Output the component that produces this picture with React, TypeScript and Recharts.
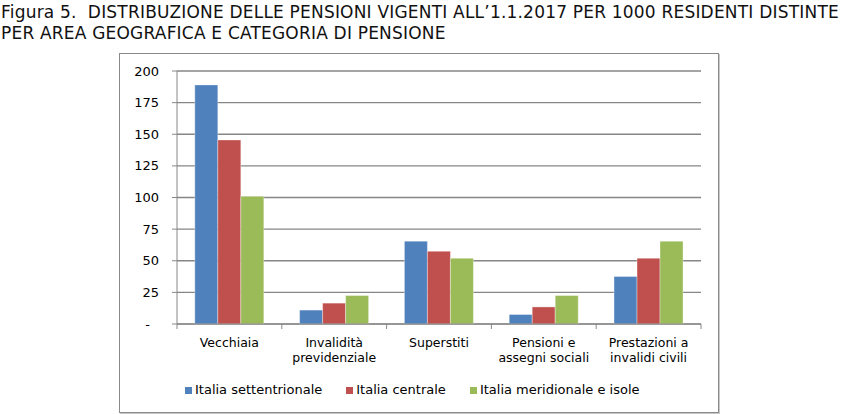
import { BarChart, Bar, XAxis, YAxis, CartesianGrid } from "recharts";

const categories = [
  "Vecchiaia",
  "Invalidità\nprevidenziale",
  "Superstiti",
  "Pensioni e\nassegni sociali",
  "Prestazioni a\ninvalidi civili",
];
const nord = [189, 11, 65.5, 7.5, 37.5];
const centro = [145.5, 16.5, 57.5, 13.5, 52];
const sud = [101, 22.5, 52, 22.5, 65.5];
const yTicks = [0, 25, 50, 75, 100, 125, 150, 175, 200];

const series = [
  { key: "nord", name: "Italia settentrionale", color: "#4F81BD" },
  { key: "centro", name: "Italia centrale", color: "#C0504D" },
  { key: "sud", name: "Italia meridionale e isole", color: "#9BBB59" },
];

const data = categories.map((name, i) => ({
  name,
  nord: nord[i],
  centro: centro[i],
  sud: sud[i],
}));

const FONT = "'DejaVu Sans', Verdana, sans-serif";
const CHART_W = 598;
const CHART_H = 358;
const MARGIN = { top: 17, right: 17, left: 0, bottom: 0 };
const Y_WIDTH = 57;
const BAND = (CHART_W - MARGIN.left - MARGIN.right - Y_WIDTH) / categories.length;

function XTick(props: any) {
  const { x, y, payload, index } = props;
  const lines = String(payload.value).split("\n");
  const half = BAND / 2;
  return (
    <g>
      <line x1={x - half} x2={x - half} y1={y} y2={y + 5} stroke="#888" />
      {index === categories.length - 1 && (
        <line x1={x + half} x2={x + half} y1={y} y2={y + 5} stroke="#888" />
      )}
      <text x={x} y={y} textAnchor="middle" fontFamily={FONT} fontSize={12.5} fill="#000">
        {lines.map((l, i) => (
          <tspan key={i} x={x} dy={i === 0 ? 23 : 15}>
            {l}
          </tspan>
        ))}
      </text>
    </g>
  );
}

function YTick(props: any) {
  const { x, y, payload } = props;
  const zero = payload.value === 0;
  return (
    <text
      x={zero ? x - 9 : x}
      y={y}
      dy={4.5}
      textAnchor="end"
      fontFamily={FONT}
      fontSize={13}
      fill="#000"
    >
      {zero ? "-" : payload.value}
    </text>
  );
}

export default function App() {
  return (
    <div style={{ position: "absolute", left: 0, top: 0, width: 861, height: 414, background: "#fff" }}>
      <div
        style={{
          position: "absolute",
          left: 1,
          top: 2,
          fontFamily: FONT,
          fontSize: 17,
          letterSpacing: 0.2,
          lineHeight: "21px",
          color: "#111",
          whiteSpace: "nowrap",
        }}
      >
        Figura 5.&nbsp; DISTRIBUZIONE DELLE PENSIONI VIGENTI ALL’1.1.2017 PER 1000 RESIDENTI DISTINTE
        <br />
        PER AREA GEOGRAFICA E CATEGORIA DI PENSIONE
      </div>

      <div
        style={{
          position: "absolute",
          left: 119,
          top: 53,
          width: CHART_W + 2,
          height: CHART_H + 2,
          boxSizing: "border-box",
          border: "1px solid #8a8a8a",
          boxShadow: "1px 1px 0 #c8c8c8",
        }}
      >
        <BarChart
          width={CHART_W}
          height={CHART_H}
          data={data}
          margin={MARGIN}
          barCategoryGap="17%"
          barGap={0}
        >
          <CartesianGrid vertical={false} stroke="#868686" strokeWidth={1.4} />
          <XAxis
            dataKey="name"
            interval={0}
            height={88}
            tickLine={false}
            tickSize={0}
            tickMargin={0}
            axisLine={{ stroke: "#888" }}
            tick={<XTick />}
          />
          <YAxis
            width={Y_WIDTH}
            domain={[0, 200]}
            ticks={yTicks}
            interval={0}
            tickSize={5}
            tickMargin={13}
            tickLine={{ stroke: "#888" }}
            axisLine={{ stroke: "#888" }}
            tick={<YTick />}
          />
          {series.map((s) => (
            <Bar
              key={s.key}
              dataKey={s.key}
              name={s.name}
              fill={s.color}
              stroke="rgba(255,255,255,0.35)"
              strokeWidth={1}
              isAnimationActive={false}
            />
          ))}
        </BarChart>
      </div>

      <div
        style={{
          position: "absolute",
          left: 185,
          top: 381,
          display: "flex",
          fontFamily: FONT,
          fontSize: 13,
          lineHeight: "18px",
          color: "#000",
        }}
      >
        {series.map((s) => (
          <div key={s.key} style={{ display: "flex", alignItems: "center", marginRight: 24 }}>
            <span style={{ width: 7, height: 7, background: s.color, marginRight: 3 }} />
            {s.name}
          </div>
        ))}
      </div>
    </div>
  );
}
